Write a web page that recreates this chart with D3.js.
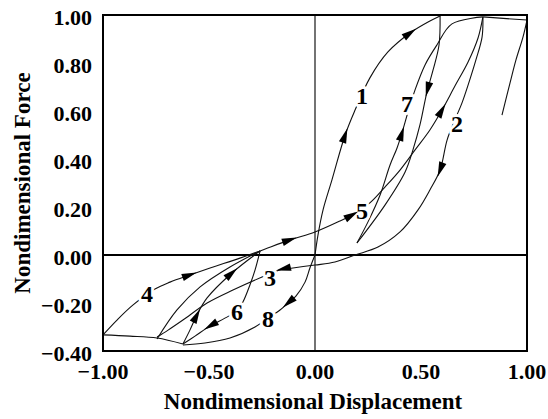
<!DOCTYPE html>
<html>
<head>
<meta charset="utf-8">
<script src="https://cdn.jsdelivr.net/npm/d3@7/dist/d3.min.js"></script>
<style>
  html, body { margin: 0; padding: 0; background: #fff; }
  svg { display: block; }
  text { font-family: "Liberation Serif", "Times New Roman", "DejaVu Serif", serif; font-weight: bold; fill: #000; }
</style>
</head>
<body>
<svg id="chart" width="548" height="419"></svg>
<script>
// ---------- data (nondimensional displacement, nondimensional force) ----------
const xTicks = [-1.0, -0.5, 0.0, 0.5, 1.0];
const yTicks = [-0.4, -0.2, 0.0, 0.2, 0.4, 0.6, 0.8, 1.0];
const xTitle = "Nondimensional Displacement";
const yTitle = "Nondimensional Force";

// rule 1: primary loading from origin to first peak
const rule1 = [[0.000,0.000],[0.014,0.083],[0.038,0.188],[0.080,0.313],[0.142,0.500],[0.189,0.604],
  [0.259,0.738],[0.344,0.846],[0.448,0.925],[0.542,0.975],[0.590,0.996]];
// unloading from first peak to small positive displacement
const unloadA = [[0.590,0.996],[0.585,0.875],[0.557,0.771],[0.528,0.679],[0.495,0.542],[0.462,0.438],
  [0.425,0.346],[0.330,0.208],[0.198,0.050]];
// rule 7: reloading to second peak
const rule7 = [[0.198,0.050],[0.250,0.138],[0.307,0.250],[0.354,0.375],[0.387,0.446],[0.410,0.508],
  [0.439,0.596],[0.472,0.688],[0.519,0.792],[0.575,0.875],[0.646,0.963],[0.792,0.992]];
// rules 4 and 5: reloading from -1.0 to second peak
const rule45 = [[-1.000,-0.333],[-0.934,-0.271],[-0.858,-0.208],[-0.755,-0.142],[-0.684,-0.113],
  [-0.590,-0.083],[-0.495,-0.054],[-0.354,-0.013],[-0.259,0.017],[-0.118,0.063],[0.000,0.096],
  [0.118,0.142],[0.175,0.167],[0.259,0.217],[0.330,0.283],[0.401,0.354],[0.472,0.438],[0.542,0.521],
  [0.599,0.604],[0.660,0.704],[0.722,0.804],[0.769,0.904],[0.792,0.992]];
// rules 2 and 3: unloading from second peak into negative range
const rule23 = [[0.792,0.992],[0.788,0.908],[0.759,0.813],[0.722,0.708],[0.693,0.633],[0.660,0.563],
  [0.623,0.479],[0.590,0.354],[0.542,0.271],[0.486,0.188],[0.401,0.096],[0.297,0.033],[0.189,0.000],
  [0.094,-0.029],[0.000,-0.042],[-0.104,-0.054],[-0.151,-0.058],[-0.250,-0.092],[-0.387,-0.146],
  [-0.509,-0.200],[-0.623,-0.271],[-0.693,-0.313],[-0.745,-0.342]];
// reloading from -0.75 to target point
const reloadT1 = [[-0.745,-0.350],[-0.651,-0.229],[-0.542,-0.133],[-0.401,-0.050],[-0.259,0.017]];
// reloading from -0.62 to target point
const reloadT2 = [[-0.623,-0.371],[-0.590,-0.313],[-0.557,-0.250],[-0.509,-0.179],[-0.392,-0.075],[-0.259,0.017]];
// rule 6: unloading from target point
const rule6 = [[-0.259,0.017],[-0.283,-0.063],[-0.307,-0.125],[-0.340,-0.196],[-0.368,-0.233],
  [-0.425,-0.263],[-0.495,-0.296],[-0.566,-0.338],[-0.623,-0.371]];
// rule 8: from origin to negative peak
const rule8 = [[0.000,0.000],[-0.024,-0.054],[-0.047,-0.113],[-0.090,-0.171],[-0.127,-0.200],
  [-0.165,-0.229],[-0.222,-0.263],[-0.283,-0.300],[-0.401,-0.346],[-0.519,-0.367],[-0.623,-0.375]];
// negative envelope to -1.0
const negEnv = [[-0.623,-0.371],[-0.745,-0.346],[-0.873,-0.338],[-1.000,-0.333]];
// primary branch from second peak to 1.0 and last partial unloading
const topEnv = [[0.792,0.992],[1.000,0.979]];
const unloadC = [[1.000,0.979],[0.981,0.908],[0.948,0.813],[0.920,0.717],[0.882,0.583]];

const curves = { rule1, unloadA, rule7, rule45, rule23, reloadT1, reloadT2, rule6, rule8, negEnv, topEnv, unloadC };

// arrows: curve name + approximate location (data units); direction follows the curve
const arrows = [
  ["rule1", 0.142, 0.500], ["rule1", 0.448, 0.929],
  ["unloadA", 0.528, 0.688],
  ["rule7", 0.410, 0.508],
  ["rule45", -0.590, -0.083], ["rule45", -0.118, 0.063], ["rule45", 0.175, 0.167], ["rule45", 0.599, 0.604],
  ["rule23", 0.590, 0.354], ["rule23", -0.151, -0.058],
  ["reloadT2", -0.557, -0.250], ["reloadT2", -0.392, -0.075],
  ["rule6", -0.495, -0.296],
  ["rule8", -0.127, -0.200]
];

// rule numbers
const ruleLabels = [
  ["1", 0.222, 0.667], ["2", 0.670, 0.550], ["3", -0.212, -0.092], ["4", -0.792, -0.158],
  ["5", 0.222, 0.188], ["6", -0.368, -0.233], ["7", 0.434, 0.633], ["8", -0.222, -0.263]
];

// ---------- drawing ----------
const svg = d3.select("#chart");
const x = d3.scaleLinear().domain([-1, 1]).range([103, 527]);
const y = d3.scaleLinear().domain([-0.4, 1.0]).range([351, 15]);
const fmt = d3.format(".2f");

const line = d3.line().x(d => x(d[0])).y(d => y(d[1])).curve(d3.curveCatmullRom.alpha(0.5));

// zero lines
svg.append("line").attr("x1", x(-1)).attr("x2", x(1)).attr("y1", y(0)).attr("y2", y(0))
  .attr("stroke", "#000").attr("stroke-width", 2);
svg.append("line").attr("x1", x(0)).attr("x2", x(0)).attr("y1", y(-0.4)).attr("y2", y(1))
  .attr("stroke", "#000").attr("stroke-width", 1.1);

// curves
const gC = svg.append("g");
const paths = {};
Object.entries(curves).forEach(([k, pts]) => {
  paths[k] = gC.append("path").attr("d", line(pts)).attr("fill", "none")
    .attr("stroke", "#111").attr("stroke-width", 1.1).node();
});

// rule labels (white halo breaks the curves like the original)
svg.append("g").selectAll("text").data(ruleLabels).join("text")
  .attr("x", d => x(d[1])).attr("y", d => y(d[2])).attr("dy", "0.36em")
  .attr("text-anchor", "middle").attr("font-size", 24)
  .attr("stroke", "#fff").attr("stroke-width", 6).attr("paint-order", "stroke")
  .attr("stroke-linejoin", "round")
  .text(d => d[0]);

// arrows
const gA = svg.append("g");
arrows.forEach(([k, ax, ay]) => {
  const p = paths[k];
  const L = p.getTotalLength();
  const tx = x(ax), ty = y(ay);
  let best = 0, bd = Infinity;
  for (let s = 0; s <= L; s += 0.5) {
    const q = p.getPointAtLength(s);
    const dd = (q.x - tx) ** 2 + (q.y - ty) ** 2;
    if (dd < bd) { bd = dd; best = s; }
  }
  const a = p.getPointAtLength(Math.max(0, best - 2));
  const b = p.getPointAtLength(Math.min(L, best + 2));
  const ang = Math.atan2(b.y - a.y, b.x - a.x) * 180 / Math.PI;
  const c = p.getPointAtLength(best);
  gA.append("path").attr("d", "M7,0 L-8,-3.8 L-8,3.8 Z").attr("fill", "#000")
    .attr("transform", `translate(${c.x},${c.y}) rotate(${ang})`);
});

// frame
svg.append("rect").attr("x", x(-1)).attr("y", y(1)).attr("width", x(1) - x(-1)).attr("height", y(-0.4) - y(1))
  .attr("fill", "none").attr("stroke", "#000").attr("stroke-width", 2);

// tick labels
svg.append("g").selectAll("text").data(yTicks).join("text")
  .attr("x", 92).attr("y", d => y(d) + 2).attr("dy", "0.35em").attr("text-anchor", "end")
  .attr("font-size", 22).text(d => fmt(d));
svg.append("g").selectAll("text").data(xTicks).join("text")
  .attr("x", d => x(d)).attr("y", 371).attr("dy", "0.35em").attr("text-anchor", "middle")
  .attr("font-size", 22).text(d => fmt(d));

// axis titles
svg.append("text").attr("x", 313).attr("y", 401).attr("dy", "0.35em").attr("text-anchor", "middle")
  .attr("font-size", 23).text(xTitle);
svg.append("text").attr("transform", "translate(22,183) rotate(-90)").attr("dy", "0.35em")
  .attr("text-anchor", "middle").attr("font-size", 23).text(yTitle);
</script>
</body>
</html>
